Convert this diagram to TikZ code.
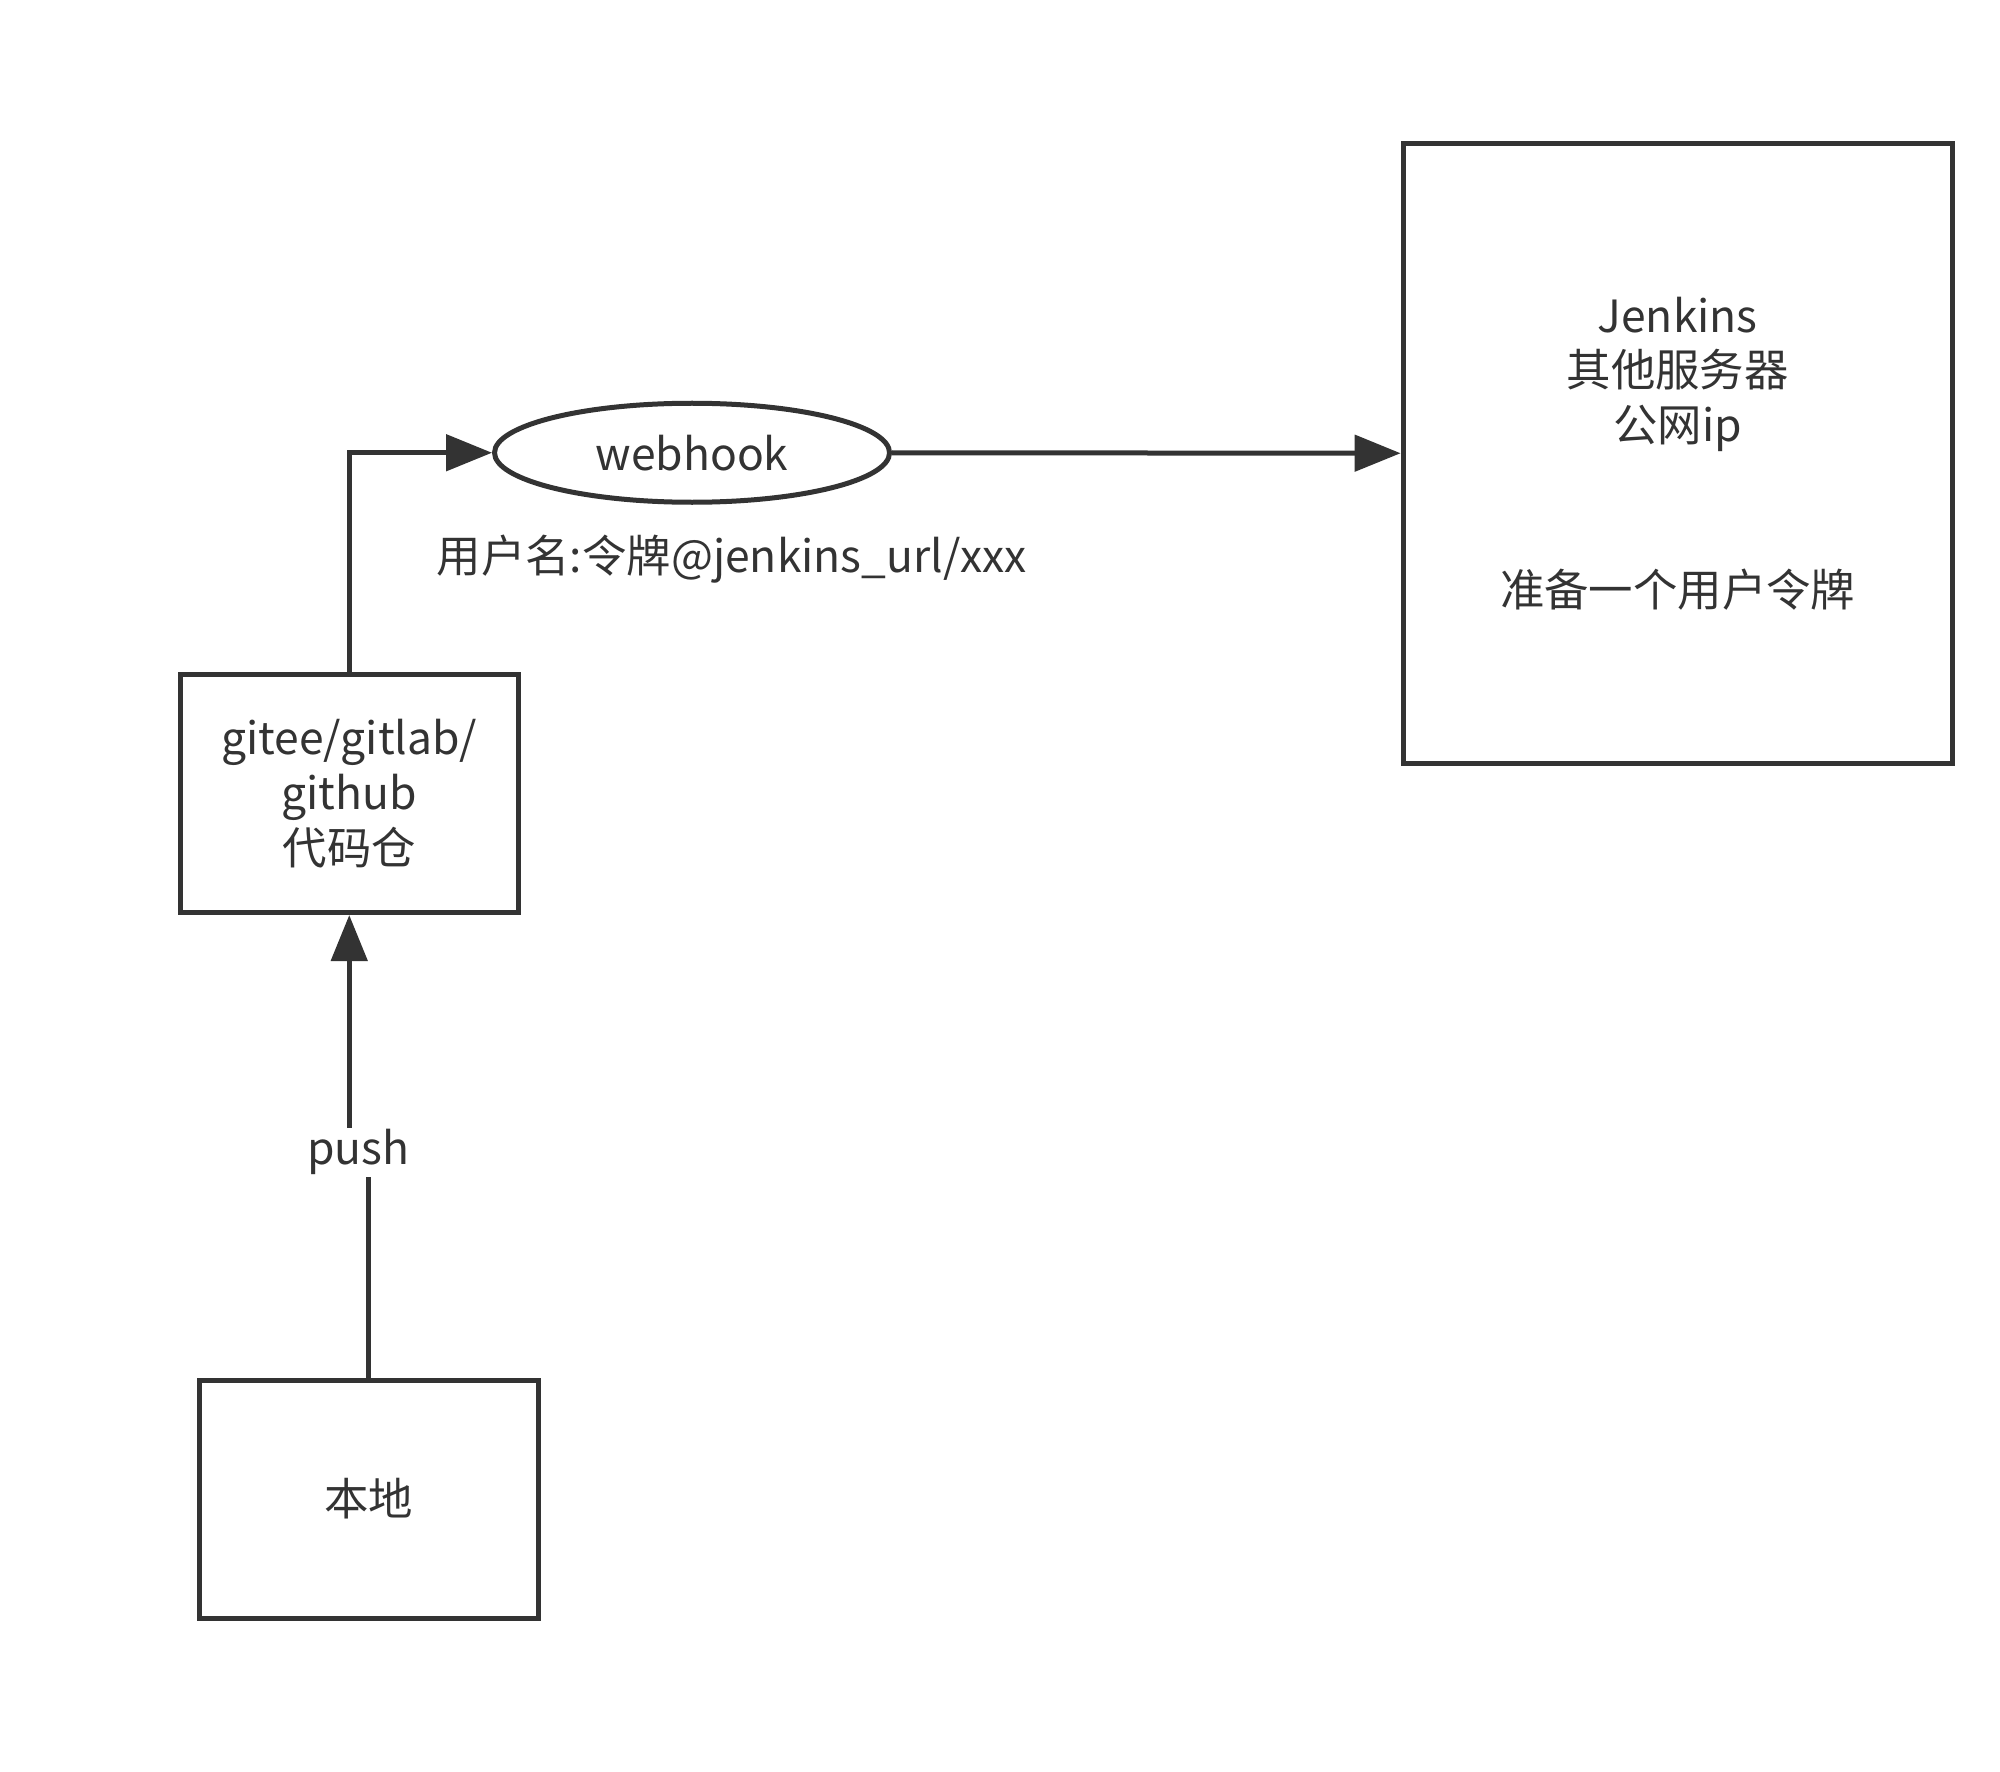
\documentclass[tikz,border=0pt]{standalone}
\usepackage{fontspec}
\setmainfont{Noto Sans CJK SC}
\usepackage{tikz}
\usetikzlibrary{arrows.meta, shapes.geometric}
\definecolor{ink}{HTML}{333333}

\begin{document}
\begin{tikzpicture}[x = 0.4975pt, y = -0.4975pt, line width = 2.5pt, draw = ink, text = ink,
                        font = \fontsize{22.2}{27.4}\selectfont,
                        box/.style = {rectangle, draw, align = center, inner sep = 0pt},
                        oval/.style = {ellipse, draw, inner sep = 0pt, minimum width = 197.5pt, minimum height = 49.5pt},
                        tag/.style = {inner sep = 1pt},
                        arr/.style = {-{Triangle[length = 23pt, width = 18pt]}}]
      \useasboundingbox (0, 0) rectangle (2010, 1780);
      \node [box, minimum width = 274.5pt, minimum height = 310pt] (jenkins) at (1686, 455.5)
            {Jenkins\\其他服务器\\公网ip\\~\\~\\准备一个用户令牌};
      \node [oval] (hook) at (695.5, 455){webhook};
      \node [box, minimum width = 169pt, minimum height = 119pt] (repo) at (351, 797.5)
            {gitee/gitlab/\\github\\代码仓};
      \node [box, minimum width = 169.5pt, minimum height = 119pt] (local) at (370.5, 1506.5){本地};
      \node [tag] (token) at (735.5, 562){用户名:令牌@jenkins\_url/xxx};
      \coordinate (p) at (360, 1158);
      \draw [arr] (repo.north) |- (hook.west);
      \draw [arr] (hook.east) -- (jenkins.west);
      \draw [arr] (local.north) |- (p) -| (repo.south);
      \node [tag, fill = white] (push) at (p){push};
    \end{tikzpicture}
\end{document}
